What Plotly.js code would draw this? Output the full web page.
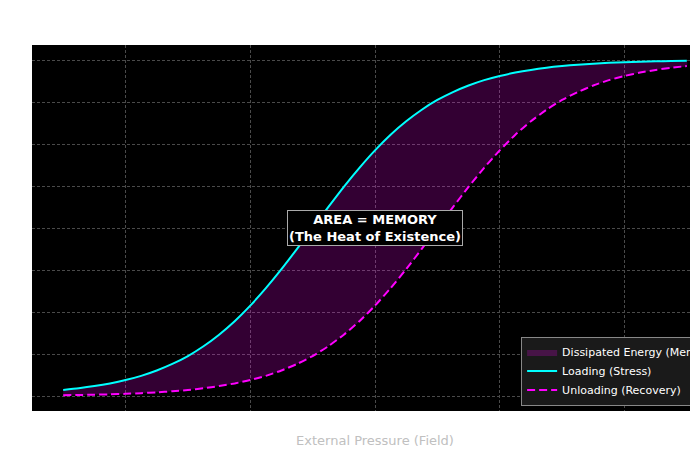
<!DOCTYPE html>
<html>
<head>
<meta charset="utf-8">
<script src="https://cdn.plot.ly/plotly-3.0.1.min.js"></script>
<style>
html, body { margin: 0; padding: 0; background: #ffffff; overflow: hidden; }
#chart { width: 718px; height: 460px; }
</style>
</head>
<body>
<div id="chart"></div>
<script>
// External pressure (field) values
var fieldX = [-5, -4.75, -4.5, -4.25, -4, -3.75, -3.5, -3.25, -3, -2.75, -2.5, -2.25, -2, -1.75, -1.5, -1.25, -1, -0.75, -0.5, -0.25,
  0, 0.25, 0.5, 0.75, 1, 1.25, 1.5, 1.75, 2, 2.25, 2.5, 2.75, 3, 3.25, 3.5, 3.75, 4, 4.25, 4.5, 4.75, 5];

// Loading (Stress) response
var loadingY = [-0.964, -0.954, -0.941, -0.925, -0.905, -0.880, -0.848, -0.809, -0.762, -0.704, -0.635, -0.555, -0.462, -0.358, -0.245, -0.124,
  0.000, 0.124, 0.245, 0.358, 0.462, 0.555, 0.635, 0.704, 0.762, 0.809, 0.848, 0.880, 0.905, 0.925, 0.941, 0.954, 0.964, 0.972, 0.978, 0.983,
  0.987, 0.990, 0.992, 0.994, 0.995];

// Unloading (Recovery) response
var unloadingY = [-0.995, -0.994, -0.992, -0.990, -0.987, -0.983, -0.978, -0.972, -0.964, -0.954, -0.941, -0.925, -0.905, -0.880, -0.848, -0.809,
  -0.762, -0.704, -0.635, -0.555, -0.462, -0.358, -0.245, -0.124, 0.000, 0.124, 0.245, 0.358, 0.462, 0.555, 0.635, 0.704, 0.762, 0.809, 0.848,
  0.880, 0.905, 0.925, 0.941, 0.954, 0.964];

var xTicks = [-4, -2, 0, 2, 4];
var yTicks = [-1, -0.75, -0.5, -0.25, 0, 0.25, 0.5, 0.75, 1];

var seriesNames = ["Dissipated Energy (Memory)", "Loading (Stress)", "Unloading (Recovery)"];
var xTitle = "External Pressure (Field)";
var noteText = "AREA = MEMORY<br>(The Heat of Existence)";

// polygon for the area between the curves
var polyX = fieldX.concat(fieldX.slice().reverse());
var polyY = loadingY.concat(unloadingY.slice().reverse());

var traces = [
  {
    x: polyX, y: polyY, type: "scatter", mode: "lines",
    fill: "toself", fillcolor: "rgba(255,0,255,0.2)",
    line: { width: 0, color: "rgba(255,0,255,0.2)", shape: "spline", smoothing: 0.6 },
    name: seriesNames[0], hoverinfo: "skip"
  },
  {
    x: fieldX, y: loadingY, type: "scatter", mode: "lines",
    line: { color: "#00ffff", width: 2, shape: "spline", smoothing: 0.6 },
    name: seriesNames[1]
  },
  {
    x: fieldX, y: unloadingY, type: "scatter", mode: "lines",
    line: { color: "#ff00ff", width: 2, dash: "8px,4px", shape: "spline", smoothing: 0.6 },
    name: seriesNames[2]
  }
];

var layout = {
  width: 718, height: 460,
  paper_bgcolor: "#ffffff",
  plot_bgcolor: "#000000",
  margin: { l: 32, r: 0, t: 45, b: 49, autoexpand: false },
  font: { family: "DejaVu Sans, sans-serif", color: "#ffffff", size: 11 },
  showlegend: true,
  xaxis: {
    range: [-5.5, 5.5],
    tickvals: xTicks,
    showticklabels: false,
    ticks: "",
    showgrid: true, gridcolor: "#4a4a4a", griddash: "3px,2px", gridwidth: 1,
    zeroline: false, showline: false,
    title: { text: xTitle, font: { color: "#c0c0c0", size: 13, family: "DejaVu Sans, sans-serif" }, standoff: 24 }
  },
  yaxis: {
    range: [-1.0893, 1.0893],
    tickvals: yTicks,
    showticklabels: false,
    ticks: "",
    showgrid: true, gridcolor: "#4a4a4a", griddash: "3px,2px", gridwidth: 1,
    zeroline: false, showline: false
  },
  legend: {
    x: 0.713, y: 0.015, xanchor: "left", yanchor: "bottom",
    bgcolor: "#1a1a1a", bordercolor: "#888888", borderwidth: 1,
    font: { color: "#ffffff", size: 11, family: "DejaVu Sans, sans-serif" },
    tracegroupgap: 0, itemwidth: 30
  },
  annotations: [
    {
      x: 0, y: 0, xref: "x", yref: "y",
      text: "<b>" + noteText + "</b>",
      showarrow: false,
      font: { color: "#ffffff", size: 13, family: "DejaVu Sans, sans-serif" },
      bgcolor: "#000000", bordercolor: "#aaaaaa", borderwidth: 1, borderpad: 1,
      align: "center"
    }
  ]
};

Plotly.newPlot("chart", traces, layout, { displayModeBar: false, staticPlot: true });
</script>
</body>
</html>
